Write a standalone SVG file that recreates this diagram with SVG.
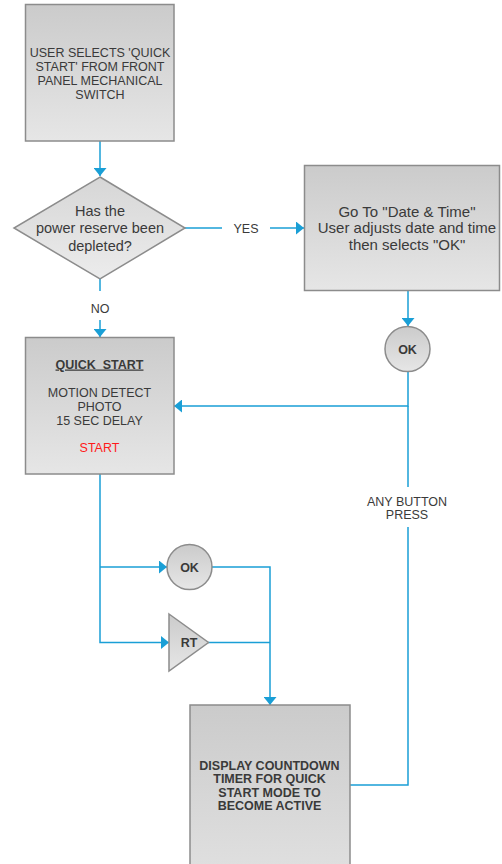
<svg xmlns="http://www.w3.org/2000/svg" width="502" height="864" viewBox="0 0 502 864">
  <defs>
    <linearGradient id="boxFill" x1="0" y1="0" x2="0" y2="1">
      <stop offset="0" stop-color="#cbcbcb"/>
      <stop offset="1" stop-color="#e6e6e6"/>
    </linearGradient>
    <linearGradient id="tallFill" x1="0" y1="0" x2="0" y2="1">
      <stop offset="0" stop-color="#cbcbcb"/>
      <stop offset="1" stop-color="#e0e0e0"/>
    </linearGradient>
    <linearGradient id="wideFill" x1="0" y1="0" x2="0" y2="1">
      <stop offset="0" stop-color="#d6d6d6"/>
      <stop offset="1" stop-color="#ececec"/>
    </linearGradient>
    <marker id="arrow" markerUnits="userSpaceOnUse" markerWidth="8" markerHeight="13" refX="8" refY="6.5" orient="auto">
      <path d="M0,0 L8,6.5 L0,13 Z" fill="#1a9fd6"/>
    </marker>
    <style>
      .shape { stroke: #8c8c8c; stroke-width: 1.5; }
      .txt { font-family: "Liberation Sans", Arial, sans-serif; font-size: 12.5px; fill: #3a3a3a; text-anchor: middle; }
      .dia { font-size: 14.5px; }
      .big { font-size: 15px; }
      .bold { font-weight: bold; }
      .conn { fill: none; stroke: #1a9fd6; stroke-width: 1.5; }
      .lbl { font-family: "Liberation Sans", Arial, sans-serif; font-size: 12.5px; fill: #3a3a3a; text-anchor: middle; }
    </style>
  </defs>

  <rect width="502" height="864" fill="#ffffff"/>

  <g id="connectors">
    <!-- start box to decision -->
    <path class="conn" d="M100,141 V176" marker-end="url(#arrow)"/>
    <!-- YES branch -->
    <path class="conn" d="M185,228 H222"/>
    <path class="conn" d="M270,228 H304" marker-end="url(#arrow)"/>
    <!-- NO branch -->
    <path class="conn" d="M100,279 V291"/>
    <path class="conn" d="M100,320 V337" marker-end="url(#arrow)"/>
    <!-- date/time box to OK -->
    <path class="conn" d="M408,291 V326" marker-end="url(#arrow)"/>
    <!-- OK back to quick start -->
    <path class="conn" d="M408,371 V406 H174" marker-end="url(#arrow)"/>
    <path class="conn" d="M408,406 V487"/>
    <!-- any button press from countdown -->
    <path class="conn" d="M350,785 H408 V527"/>
    <!-- quick start to OK / RT -->
    <path class="conn" d="M100,474 V642.5 H169" marker-end="url(#arrow)"/>
    <path class="conn" d="M100,567 H167" marker-end="url(#arrow)"/>
    <!-- OK / RT to countdown -->
    <path class="conn" d="M211,567 H270 V705" marker-end="url(#arrow)"/>
    <path class="conn" d="M208,642.5 H270"/>
  </g>

  <g id="labels">
    <text class="lbl" x="246" y="232.5">YES</text>
    <text class="lbl" x="100" y="312.5">NO</text>
    <text class="lbl" x="407" y="505.5">ANY BUTTON</text>
    <text class="lbl" x="407" y="519">PRESS</text>
  </g>

  <g id="node-start">
    <rect class="shape" x="25.5" y="4.5" width="148.5" height="136.5" fill="url(#boxFill)"/>
    <text class="txt" x="100" y="57">USER SELECTS 'QUICK</text>
    <text class="txt" x="100" y="71">START' FROM FRONT</text>
    <text class="txt" x="100" y="85">PANEL MECHANICAL</text>
    <text class="txt" x="100" y="99">SWITCH</text>
  </g>

  <g id="node-decision">
    <polygon class="shape" points="100,177 185,228 100,279 14,228" fill="url(#wideFill)"/>
    <text class="txt dia" x="100" y="216">Has the</text>
    <text class="txt dia" x="100" y="233">power reserve been</text>
    <text class="txt dia" x="100" y="250.5">depleted?</text>
  </g>

  <g id="node-datetime">
    <rect class="shape" x="304.5" y="165.5" width="195" height="125" fill="url(#boxFill)"/>
    <text class="txt big" x="407" y="216.5">Go To "Date &amp; Time"</text>
    <text class="txt big" x="407" y="233">User adjusts date and time</text>
    <text class="txt big" x="407" y="249.5">then selects "OK"</text>
  </g>

  <g id="node-ok-datetime">
    <circle class="shape" cx="407.5" cy="349" r="22.5" fill="url(#boxFill)"/>
    <text class="txt bold" x="407.5" y="353.5">OK</text>
  </g>

  <g id="node-quickstart">
    <rect class="shape" x="25.5" y="337.5" width="148.5" height="136.5" fill="url(#boxFill)"/>
    <text class="txt bold" x="99.5" y="368.5" text-decoration="underline" xml:space="preserve">QUICK  START</text>
    <text class="txt" x="99.5" y="396.5">MOTION DETECT</text>
    <text class="txt" x="99.5" y="411">PHOTO</text>
    <text class="txt" x="99.5" y="425">15 SEC DELAY</text>
    <text class="txt" x="99.5" y="451.5" style="fill:#ff1a1a">START</text>
  </g>

  <g id="node-ok">
    <circle class="shape" cx="189.5" cy="567" r="22.5" fill="url(#boxFill)"/>
    <text class="txt bold" x="189.5" y="571.5">OK</text>
  </g>

  <g id="node-rt">
    <polygon class="shape" points="169,614 208.5,642.5 169,671" fill="url(#boxFill)"/>
    <text class="txt bold" x="189" y="647">RT</text>
  </g>

  <g id="node-countdown">
    <rect class="shape" x="190" y="705" width="160" height="170" fill="url(#tallFill)"/>
    <text class="txt bold" x="269.5" y="769.5">DISPLAY COUNTDOWN</text>
    <text class="txt bold" x="269.5" y="783">TIMER FOR QUICK</text>
    <text class="txt bold" x="269.5" y="796.5">START MODE TO</text>
    <text class="txt bold" x="269.5" y="810">BECOME ACTIVE</text>
  </g>
</svg>
